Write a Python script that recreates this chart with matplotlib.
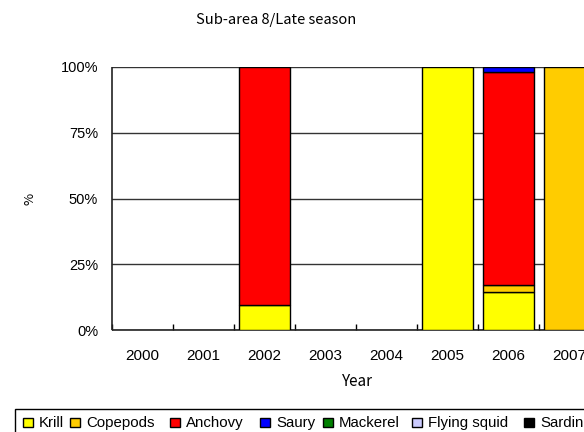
import matplotlib.pyplot as plt
from matplotlib.patches import Rectangle
import numpy as np

years = ["2000", "2001", "2002", "2003", "2004", "2005", "2006", "2007"]
species = ["Krill", "Copepods", "Anchovy", "Saury", "Mackerel", "Flying squid", "Sardine"]
colors = ["#FFFF00", "#FFCC00", "#FF0000", "#0000FF", "#008000", "#CCCCFF", "#000000"]

# composition (%) by year
krill = [0, 0, 9.5, 0, 0, 100, 14.3, 0]
copepods = [0, 0, 0, 0, 0, 0, 2.8, 100]
anchovy = [0, 0, 90.5, 0, 0, 0, 81.1, 0]
saury = [0, 0, 0, 0, 0, 0, 1.8, 0]
mackerel = [0, 0, 0, 0, 0, 0, 0, 0]
flying_squid = [0, 0, 0, 0, 0, 0, 0, 0]
sardine = [0, 0, 0, 0, 0, 0, 0, 0]
series = [krill, copepods, anchovy, saury, mackerel, flying_squid, sardine]

plt.rcParams['font.family'] = ['Liberation Sans', 'DejaVu Sans']
jp = ['Noto Sans CJK JP', 'DejaVu Sans']

W, H = 584, 432
fig = plt.figure(figsize=(W / 100, H / 100), dpi=100)
ax = fig.add_axes([112 / W, 102 / H, 488 / W, 263 / H])

x = np.arange(len(years))
bottom = np.zeros(len(years))
for vals, c in zip(series, colors):
    v = np.array(vals, dtype=float)
    mask = v > 0
    ax.bar(x[mask], v[mask], width=0.83, bottom=bottom[mask], color=c,
           edgecolor='black', linewidth=1, zorder=3)
    bottom += v

ax.set_xlim(-0.5, len(years) - 0.5)
ax.set_ylim(0, 100)
ax.set_yticks([0, 25, 50, 75, 100])
ax.set_yticklabels(["0%", "25%", "50%", "75%", "100%"], fontsize=10.5)
ax.yaxis.grid(True, color='#333333', linewidth=1, zorder=0)
ax.tick_params(axis='y', length=0, pad=10)

# category boundaries get inward ticks, year labels sit between them
ax.set_xticks(np.arange(len(years) + 1) - 0.5)
ax.set_xticklabels([])
ax.tick_params(axis='x', which='major', direction='in', length=4, width=1)
ax.set_xticks(x, minor=True)
ax.set_xticklabels(years, minor=True, fontsize=11)
ax.tick_params(axis='x', which='minor', length=0, pad=14)

for s in ['top', 'right']:
    ax.spines[s].set_visible(False)
for s in ['left', 'bottom']:
    ax.spines[s].set_linewidth(1.2)
    ax.spines[s].set_color('#222222')
    ax.spines[s].set_capstyle('butt')

fig.text(276 / W, 1 - 20 / H, "Sub-area 8/Late season", ha='center', va='center',
         fontsize=10.6, family=jp)
fig.text(357 / W, 1 - 382 / H, "Year", ha='center', va='center', fontsize=11, family=jp)
fig.text(30 / W, 1 - 199 / H, "%", ha='center', va='center', rotation=90,
         fontsize=9.5, family=jp)

# legend strip along the bottom edge
fig.add_artist(Rectangle((15 / W, -0.05), 1.0, 1 - 409 / H + 0.05, transform=fig.transFigure,
                         facecolor='white', edgecolor='black', linewidth=1))
key_x = [23, 70, 170, 260, 323, 412, 524]
for kx, name, c in zip(key_x, species, colors):
    fig.add_artist(Rectangle((kx / W, 1 - 427 / H), 10 / W, 9 / H, transform=fig.transFigure,
                             facecolor=c, edgecolor='black', linewidth=1))
    fig.text((kx + 16) / W, 1 - 423 / H, name, ha='left', va='center', fontsize=10.8)

fig.savefig('out.png', dpi=100)
